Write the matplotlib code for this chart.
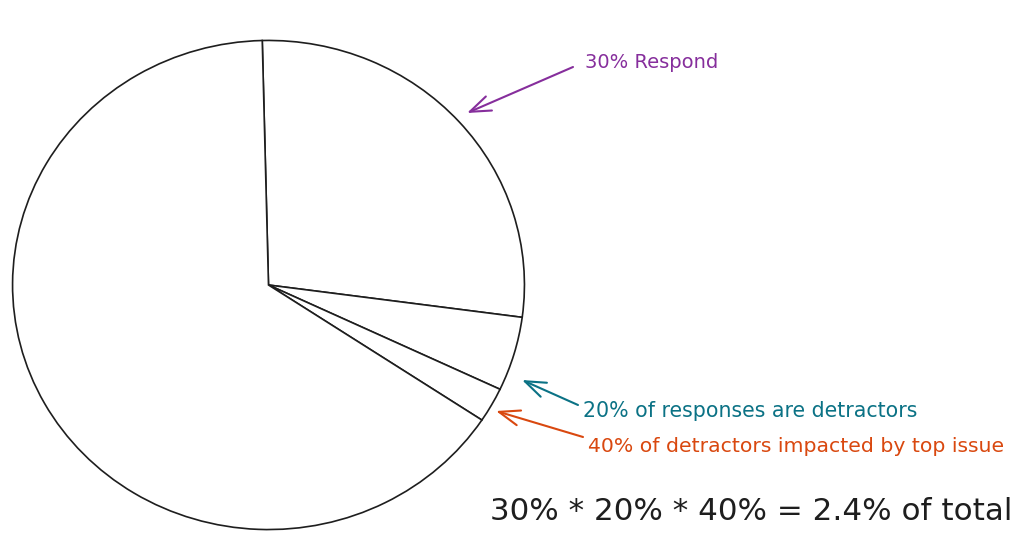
import matplotlib
matplotlib.use("Agg")
import matplotlib.pyplot as plt

# Shares of the whole circle as drawn (percent), clockwise from the top
slice_labels = ["Respond (not detractor)", "Detractors (other)", "Detractors (top issue)", "No response"]
slice_shares = [27.5, 4.9, 2.3, 65.3]

respond_label = "30% Respond"
detractor_label = "20% of responses are detractors"
top_issue_label = "40% of detractors impacted by top issue"
total_label = "30% * 20% * 40% = 2.4% of total"

PURPLE = "#862e9c"
TEAL = "#0b7285"
ORANGE = "#d9480f"

fig = plt.figure(figsize=(10.24, 5.49), dpi=100)
fig.patch.set_facecolor("white")

# Pie axes (slightly elliptical like the hand drawing)
pax = fig.add_axes([10 / 1024, (549 - 532) / 549, 517 / 1024, 494 / 549])
pax.pie(slice_shares, startangle=91.4, counterclock=False,
        colors=["white"] * len(slice_shares),
        wedgeprops=dict(edgecolor="#1e1e1e", linewidth=1.2))
pax.set_aspect("auto")
pax.set_xlim(-1.01, 1.01)
pax.set_ylim(-1.01, 1.01)
pax.axis("off")

# Overlay axes in pixel coordinates for annotations
ax = fig.add_axes([0, 0, 1, 1])
ax.set_xlim(0, 1024)
ax.set_ylim(549, 0)
ax.axis("off")
ax.patch.set_alpha(0)

font = "DejaVu Sans"

def arrow(x0, y0, x1, y1, color):
    ax.annotate("", xy=(x1, y1), xytext=(x0, y0),
                arrowprops=dict(arrowstyle="->,head_length=1.5,head_width=0.55",
                                color=color, lw=1.5, shrinkA=0, shrinkB=0))

ax.text(585, 63, respond_label, color=PURPLE, fontsize=14, family=font,
        va="center", ha="left")
arrow(573, 67, 467, 113, PURPLE)

ax.text(583, 411, detractor_label, color=TEAL, fontsize=14.8, family=font,
        va="center", ha="left")
arrow(578, 405, 522, 380, TEAL)

ax.text(588, 446, top_issue_label, color=ORANGE, fontsize=14.7, family=font,
        va="center", ha="left")
arrow(583, 437, 496, 411, ORANGE)

ax.text(490, 512, total_label, color="#1e1e1e", fontsize=22.3, family=font,
        va="center", ha="left")

fig.savefig("out.png", dpi=100, facecolor="white")
